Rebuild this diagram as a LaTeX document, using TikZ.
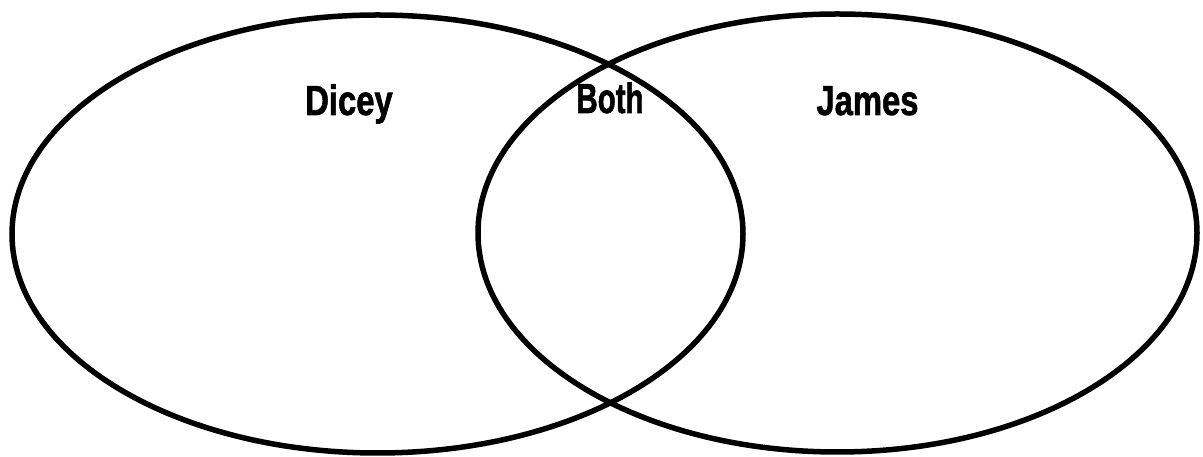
\documentclass[tikz,border=0pt]{standalone}
\usepackage{fontspec}
\setmainfont{Liberation Sans}
\newfontfamily\labfont[FakeBold=1.6]{Liberation Sans Bold}
\begin{document}
\begin{tikzpicture}[x=1pt,y=1pt,
  ring/.style={line width=5.5pt,draw=black},
  lab/.style={font=\fontsize{42}{42}\labfont,anchor=base,inner sep=0pt,xscale=0.78}]
\useasboundingbox (0,0) rectangle (1203,457);
\draw[ring] (377.5,223) ellipse [x radius=365.5, y radius=219];
\draw[ring] (837.5,224) ellipse [x radius=359.5, y radius=219];
\node[lab] (dicey) at (349,342) {Dicey};
\node[lab,xscale=0.9] (both) at (610,344) {Both};
\node[lab] (james) at (867.5,342) {James};
\end{tikzpicture}
\end{document}
